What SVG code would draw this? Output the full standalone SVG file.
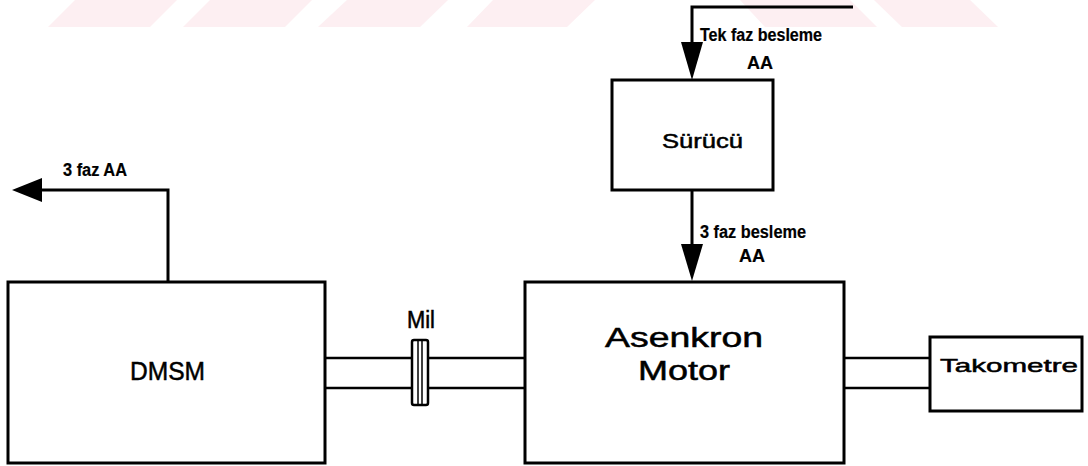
<svg xmlns="http://www.w3.org/2000/svg" width="1088" height="466" viewBox="0 0 1088 466">
<style>
.box{fill:#fff;stroke:#000;stroke-width:3}
.ln{fill:none;stroke:#000;stroke-width:3}
.sh{fill:none;stroke:#000;stroke-width:2.5}
.t{font-family:"Liberation Sans",Arial,sans-serif;fill:#000;stroke:#000;stroke-width:0.5}
.s{font-weight:bold;stroke-width:0.2}
.wm{fill:#fdeff2}
</style>
<g id="watermark">
<polygon class="wm" points="75,0 177,0 150,27 48,27"/>
<polygon class="wm" points="210,0 312,0 285,27 183,27"/>
<polygon class="wm" points="347,0 448,0 420,27 318,27"/>
<polygon class="wm" points="493,0 595,0 567,27 467,27"/>
<polygon class="wm" points="740,0 850,0 877,27 765,27"/>
<polygon class="wm" points="874,0 970,0 998,27 902,27"/>
</g>
<g id="connectors">
<polyline class="ln" points="853,7 692,7 692,45"/>
<polygon points="681,42 703,42 692,80"/>
<line class="ln" x1="692" y1="190" x2="692" y2="246"/>
<polygon points="681,244 703,244 692,281"/>
<polyline class="ln" points="168,282 168,190 40,190"/>
<polygon points="12,190 42,178 42,202"/>
<line class="sh" x1="325" y1="358" x2="525" y2="358"/>
<line class="sh" x1="325" y1="388" x2="525" y2="388"/>
<line class="sh" x1="844" y1="358" x2="930" y2="358"/>
<line class="sh" x1="844" y1="388" x2="930" y2="388"/>
<text class="t s" x="700" y="41" font-size="18" textLength="122" lengthAdjust="spacingAndGlyphs">Tek faz besleme</text>
<text class="t s" x="760" y="69" font-size="18" text-anchor="middle">AA</text>
<text class="t s" x="700" y="238" font-size="18" textLength="106" lengthAdjust="spacingAndGlyphs">3 faz besleme</text>
<text class="t s" x="752" y="262" font-size="18" text-anchor="middle">AA</text>
<text class="t s" x="63" y="176" font-size="18" textLength="64" lengthAdjust="spacingAndGlyphs">3 faz AA</text>
</g>
<g id="coupling">
<rect x="412" y="340" width="16" height="65" rx="2" fill="#fff" stroke="#000" stroke-width="2.5"/>
<line x1="418" y1="341" x2="418" y2="404" stroke="#000" stroke-width="1.5"/>
<line x1="422" y1="341" x2="422" y2="404" stroke="#000" stroke-width="1.5"/>
<text class="t" x="407" y="328" font-size="23" textLength="28" lengthAdjust="spacingAndGlyphs">Mil</text>
</g>
<g id="surucu">
<rect class="box" x="612" y="80" width="161" height="110"/>
<text class="t" x="662" y="148" font-size="20" textLength="81" lengthAdjust="spacingAndGlyphs">Sürücü</text>
</g>
<g id="dmsm">
<rect class="box" x="8" y="282" width="317" height="181"/>
<text class="t" x="130" y="380" font-size="26" textLength="75" lengthAdjust="spacingAndGlyphs">DMSM</text>
</g>
<g id="asenkron">
<rect class="box" x="525" y="282" width="319" height="181"/>
<text class="t" x="605" y="347" font-size="27" textLength="158" lengthAdjust="spacingAndGlyphs">Asenkron</text>
<text class="t" x="638" y="380" font-size="27" textLength="92" lengthAdjust="spacingAndGlyphs">Motor</text>
</g>
<g id="takometre">
<rect class="box" x="930" y="337" width="152" height="74"/>
<text class="t" x="940" y="372" font-size="19" textLength="138" lengthAdjust="spacingAndGlyphs">Takometre</text>
</g>
</svg>
